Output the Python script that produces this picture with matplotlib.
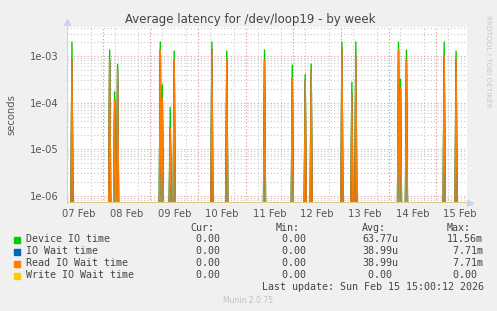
import numpy as np
import matplotlib
matplotlib.use("Agg")
import matplotlib.pyplot as plt
from matplotlib.ticker import LogLocator, FixedLocator, NullFormatter

# hours since 07 Feb 00:00, one sample per 30 min
spike_hours = [8.5, 27.5, 30.0, 31.5, 53.0, 54.0, 58.0, 60.0, 79.0, 86.5, 105.5,
               119.5, 126.0, 129.0, 144.5, 149.5, 151.5, 173.0, 174.0, 177.0, 196.0, 202.0]
device_peaks = [2.0e-3, 1.35e-3, 1.7e-4, 6.6e-4, 2.0e-3, 2.4e-4, 7.9e-5, 1.28e-3, 2.0e-3,
                1.28e-3, 1.35e-3, 6.4e-4, 4.0e-4, 6.7e-4, 2.0e-3, 2.7e-4, 2.0e-3, 2.0e-3,
                3.2e-4, 1.35e-3, 2.0e-3, 1.28e-3]
read_peaks = [8.2e-4, 8.2e-4, 1.14e-4, 5.0e-4, 1.35e-3, 1.24e-4, 2.95e-5, 8.2e-4, 1.35e-3,
              8.2e-4, 8.2e-4, 3.3e-4, 3.05e-4, 5.0e-4, 1.35e-3, 1.58e-4, 9.7e-4, 1.35e-3,
              2.03e-4, 8.2e-4, 1.0e-3, 8.2e-4]
day_labels = ["07 Feb", "08 Feb", "09 Feb", "10 Feb", "11 Feb", "12 Feb", "13 Feb", "14 Feb", "15 Feb"]

legend_names = ["Device IO time", "IO Wait time", "Read IO Wait time", "Write IO Wait time"]
legend_colors = ["#00cc00", "#0066b3", "#ff8000", "#ffcc00"]
cur_vals = ["0.00 ", "0.00 ", "0.00 ", "0.00 "]
min_vals = ["0.00 ", "0.00 ", "0.00 ", "0.00 "]
avg_vals = ["63.77u", "38.99u", "38.99u", "0.00 "]
max_vals = ["11.56m", "7.71m", "7.71m", "0.00 "]

t_start, t_end = 7.5, 207.5
y_lo, y_hi = 6.97e-7, 4.19e-3
t = np.arange(t_start, t_end + 0.25, 0.5)
device = np.zeros_like(t)
read = np.zeros_like(t)
for h, d, r in zip(spike_hours, device_peaks, read_peaks):
    i = int(round((h - t_start) / 0.5))
    device[i] = d
    read[i] = r

# zeros sit on the bottom edge of the log axis, as rrdtool draws them
def floor(v):
    return np.where(v > 0, v, y_lo)

W, H = 497, 311
fig = plt.figure(figsize=(W / 100, H / 100), dpi=100, facecolor="#f0f0f0")
ax = fig.add_axes([67 / W, (H - 203) / H, 400 / W, 176 / H], facecolor="white")
ax.set_yscale("log")
ax.set_xlim(t_start, t_end)
ax.set_ylim(y_lo, y_hi)

# grid
ax.yaxis.set_major_locator(FixedLocator([1e-6, 1e-5, 1e-4, 1e-3]))
ax.yaxis.set_minor_locator(LogLocator(base=10, subs=np.arange(2, 10)))
ax.yaxis.set_minor_formatter(NullFormatter())
ax.set_yticklabels(["1e-06", "1e-05", "1e-04", "1e-03"])
ax.set_xticks([12 + 24 * k for k in range(len(day_labels))])
ax.set_xticklabels(day_labels)
ax.set_xticks(np.arange(6, 210, 6), minor=True)
ax.grid(True, which="minor", color="#c8c8c8", linestyle=(0, (1, 2)), linewidth=0.8)
ax.yaxis.grid(True, which="major", color="#e8a0a0", linestyle=(0, (1, 2)), linewidth=0.8)
for m in range(24, 208, 24):
    ax.axvline(m, color="#e8a0a0", linestyle=(0, (1, 2)), linewidth=0.8, zorder=1.5)
ax.set_axisbelow(True)

ax.tick_params(which="both", length=0, colors="#555555", labelsize=7.2)
ax.tick_params(axis="y", pad=6)
ax.tick_params(axis="x", pad=4)
for s in ["top", "right", "bottom"]:
    ax.spines[s].set_visible(False)
ax.spines["left"].set_color("#ccd2f2")

ax.plot(t, floor(device), color=legend_colors[0], lw=1.0, zorder=3)
ax.plot(t, floor(read), color=legend_colors[1], lw=1.0, zorder=3)
ax.plot(t, floor(read), color=legend_colors[2], lw=1.0, zorder=3)
ax.axhline(y_lo, color="#e6cf8e", lw=2.0, zorder=4)

# axis arrows
ax.plot([0], [1.03], marker="^", color="#ccd2f2", ms=5, transform=ax.transAxes, clip_on=False)
ax.plot([1.008], [0], marker=">", color="#ccd2f2", ms=5, transform=ax.transAxes, clip_on=False)

fig.text(250 / W, 1 - 19 / H, "Average latency for /dev/loop19 - by week",
         ha="center", va="center", fontsize=8.5, color="#444444")
fig.text(11 / W, 1 - 115 / H, "seconds", rotation=90, ha="center", va="center",
         fontsize=7.2, color="#555555")
fig.text(488 / W, 1 - 15 / H, "RRDTOOL / TOBI OETIKER", rotation=270, ha="center", va="top",
         fontsize=5.2, color="#c8c8c8")

mono = dict(family="DejaVu Sans Mono", fontsize=7.2, color="#444444", va="center")
cols = [190, 276, 362, 447]
heads = ["Cur:", "Min:", "Avg:", "Max:"]
for x, h in zip(cols, heads):
    fig.text(x / W, 1 - 228 / H, h, ha="left", **mono)
for i, name in enumerate(legend_names):
    y = 239.5 + 12 * i
    fig.patches.append(plt.Rectangle((14 / W, 1 - (y + 3) / H), 6 / W, 6 / H,
                                     transform=fig.transFigure, color=legend_colors[i]))
    fig.text(26 / W, 1 - y / H, name, ha="left", **mono)
    for x, v in zip(cols, [cur_vals[i], min_vals[i], avg_vals[i], max_vals[i]]):
        fig.text(x / W, 1 - y / H, v.rjust(6), ha="left", **mono)
fig.text(262 / W, 1 - 287.5 / H, "Last update: Sun Feb 15 15:00:12 2026", ha="left", **mono)
fig.text(248 / W, 1 - 300.5 / H, "Munin 2.0.75", ha="center", va="center",
         fontsize=5.5, color="#c0c0c0")

fig.savefig("out.png", dpi=100, facecolor=fig.get_facecolor())
